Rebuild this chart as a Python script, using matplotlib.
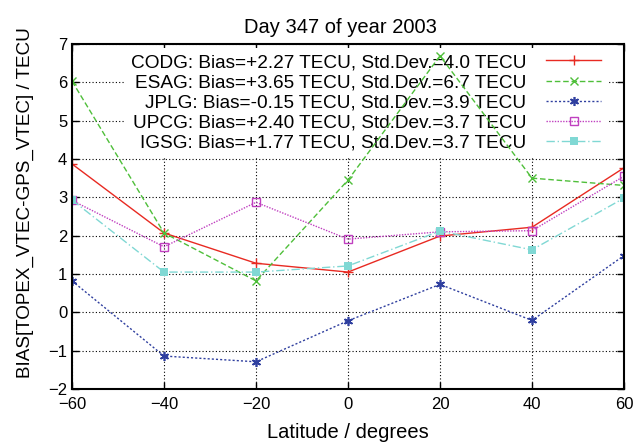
import matplotlib
matplotlib.use("Agg")
import matplotlib.pyplot as plt

plt.rcParams['font.family'] = ['Liberation Sans', 'DejaVu Sans']

# Latitude bins
lat = [-60, -40, -20, 0, 20, 40, 60]

# Bias per analysis centre (TECU)
codg = [3.87, 2.07, 1.28, 1.05, 1.99, 2.22, 3.77]
esag = [6.03, 2.07, 0.82, 3.45, 6.69, 3.50, 3.31]
jplg = [0.82, -1.14, -1.29, -0.22, 0.73, -0.21, 1.48]
upcg = [2.92, 1.71, 2.87, 1.91, 2.10, 2.13, 3.55]
igsg = [2.93, 1.05, 1.05, 1.21, 2.12, 1.63, 2.98]

labels = ['CODG: Bias=+2.27 TECU, Std.Dev.=4.0 TECU',
          'ESAG: Bias=+3.65 TECU, Std.Dev.=6.7 TECU',
          'JPLG: Bias=-0.15 TECU, Std.Dev.=3.9 TECU',
          'UPCG: Bias=+2.40 TECU, Std.Dev.=3.7 TECU',
          'IGSG: Bias=+1.77 TECU, Std.Dev.=3.7 TECU']

fig = plt.figure(figsize=(6.39, 4.42), dpi=100)
ax = fig.add_axes([0.1127, 0.1199, 0.8638, 0.7806])

ax.plot(lat, codg, color='#e82a22', ls='-', lw=1.0, marker='+', ms=7, mew=1.0, label=labels[0])
ax.plot(lat, esag, color='#4fbf3a', ls=(0, (4, 2)), lw=1.0, marker='x', ms=6, mew=1.0, label=labels[1])
ax.plot(lat, jplg, color='#2f3f9f', ls=(0, (1.5, 1.5)), lw=1.0, marker=(6, 2, 0), ms=6.5, mew=1.2, label=labels[2])
ax.plot(lat, upcg, color='#c040c0', ls=(0, (1, 1)), lw=1.0, marker='s', ms=6, mfc='none', mew=1.0, label=labels[3])
ax.plot(lat, igsg, color='#80d8d4', ls=(0, (6, 2, 1, 2)), lw=1.0, marker='s', ms=6, mew=0, label=labels[4])

ax.set_xlim(-60, 60)
ax.set_ylim(-2, 7)
ax.set_xticks(range(-60, 61, 20))
ax.set_yticks(range(-2, 8))
ax.tick_params(direction='in', top=True, right=True, length=5, width=1, labelsize=12)
ax.tick_params(axis='x', pad=6)
ax.grid(True, color='black', ls=(0, (1, 2)), lw=0.8)
ax.set_axisbelow(True)
for s in ax.spines.values():
    s.set_linewidth(1.5)

ax.set_title('Day 347 of year 2003', fontsize=14.5, pad=8, x=0.487)
ax.set_xlabel('Latitude / degrees', fontsize=14.5, labelpad=8)
ax.set_ylabel('BIAS[TOPEX_VTEC-GPS_VTEC] / TECU', fontsize=13.6)
ax.yaxis.set_label_coords(-0.069, 0.539)

leg = ax.legend(loc='upper right', bbox_to_anchor=(0.969, 0.988), markerfirst=False,
                fontsize=13.7, frameon=True, framealpha=1, edgecolor='none', fancybox=False,
                handlelength=2.9, handletextpad=1.05, labelspacing=0.15, borderpad=0.3,
                borderaxespad=0)
leg.set_zorder(1)

fig.savefig('out.png', dpi=100)
